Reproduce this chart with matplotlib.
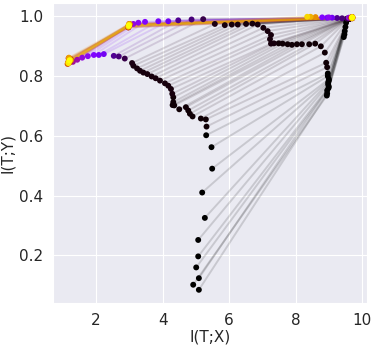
import numpy as np
import matplotlib
matplotlib.use("Agg")
import matplotlib.pyplot as plt
import seaborn as sns

# saved epochs (dense at start, sparse later)
epochs = list(range(1, 37)) + \
         [150, 240, 300, 600, 660, 750, 900, 1000, 1140, 1200] + \
         [1300, 1390, 1480, 1570, 1660, 1750, 1840, 1930, 2020, 2110,
          2200, 2290, 2380, 2470, 2560, 2650, 2740, 2830, 2920, 3000]

# layer 1 (first hidden layer)
l1_x = [9.45, 9.47, 9.48, 9.50, 9.52, 9.52, 9.55, 9.56, 9.57, 9.58, 9.58, 9.59,
        9.60, 9.60, 9.60, 9.61, 9.61, 9.61, 9.62, 9.62, 9.62, 9.62, 9.63, 9.63,
        9.63, 9.63, 9.64, 9.64, 9.64, 9.64, 9.65, 9.65, 9.65, 9.65, 9.65, 9.66,
        9.55, 9.40, 9.25, 9.10, 8.95, 8.80, 9.00, 9.60, 9.65, 9.68,
        9.70, 9.69, 9.71, 9.70, 9.68, 9.70, 9.71, 9.69, 9.70, 9.70,
        9.71, 9.69, 9.70, 8.60, 9.70, 8.45, 9.71, 8.35, 9.70, 9.70]
l1_y = [0.931, 0.940, 0.951, 0.965, 0.979, 0.990, 0.990, 0.991, 0.991, 0.991, 0.992, 0.992,
        0.992, 0.992, 0.993, 0.993, 0.993, 0.993, 0.993, 0.993, 0.994, 0.994, 0.994, 0.994,
        0.994, 0.994, 0.994, 0.994, 0.995, 0.995, 0.995, 0.995, 0.995, 0.995, 0.995, 0.995,
        0.993, 0.994, 0.995, 0.996, 0.996, 0.997, 0.997, 0.996, 0.996, 0.996,
        0.996, 0.994, 0.998, 0.996, 0.995, 0.997, 0.994, 0.996, 0.997, 0.998,
        0.996, 0.994, 0.996, 0.998, 0.995, 0.999, 0.997, 0.999, 0.996, 0.997]

# layer 2
l2_x = [8.94, 8.95, 8.95, 8.99, 9.00, 8.98, 8.98, 9.00, 9.00, 8.97, 8.97, 8.95,
        8.92, 8.88, 8.76, 8.59, 8.41, 8.19, 8.04, 7.89, 7.76, 7.61, 7.49, 7.35,
        7.26, 7.23, 7.26, 7.16, 7.03, 6.86, 6.70, 6.51, 6.26, 6.08, 5.87, 5.57,
        5.22, 4.87, 4.47, 4.17, 3.87, 3.47, 3.27, 3.12, 3.02, 2.98,
        2.97, 2.99, 2.98, 3.00, 2.97, 2.99, 3.00, 2.98, 2.99, 2.98,
        2.96, 3.01, 2.98, 2.99, 3.00, 2.97, 2.98, 2.99, 2.98, 2.99]
l2_y = [0.735, 0.742, 0.752, 0.760, 0.765, 0.772, 0.779, 0.785, 0.790, 0.800, 0.809, 0.830,
        0.845, 0.879, 0.900, 0.909, 0.907, 0.907, 0.907, 0.905, 0.907, 0.909, 0.910, 0.910,
        0.909, 0.924, 0.938, 0.951, 0.962, 0.973, 0.976, 0.975, 0.973, 0.973, 0.971, 0.975,
        0.991, 0.990, 0.987, 0.984, 0.984, 0.982, 0.979, 0.975, 0.972, 0.970,
        0.964, 0.972, 0.967, 0.975, 0.963, 0.970, 0.974, 0.966, 0.970, 0.972,
        0.965, 0.974, 0.968, 0.970, 0.975, 0.966, 0.970, 0.972, 0.968, 0.970]

# layer 3
l3_x = [4.92, 5.09, 5.09, 5.01, 5.07, 5.07, 5.27, 5.19, 5.49, 5.47, 5.31, 5.32,
        5.30, 5.15, 4.90, 4.82, 4.77, 4.70, 4.50, 4.35, 4.30, 4.32, 4.32, 4.29,
        4.25, 4.17, 4.07, 3.92, 3.79, 3.67, 3.54, 3.42, 3.32, 3.23, 3.12, 3.08,
        2.86, 2.68, 2.53, 2.23, 2.08, 1.93, 1.75, 1.58, 1.43, 1.30,
        1.15, 1.18, 1.20, 1.23, 1.17, 1.19, 1.21, 1.16, 1.19, 1.18,
        1.14, 1.20, 1.17, 1.24, 1.18, 1.16, 1.22, 1.19, 1.17, 1.20]
l3_y = [0.101, 0.084, 0.123, 0.159, 0.196, 0.251, 0.325, 0.410, 0.490, 0.562, 0.602, 0.631,
        0.655, 0.658, 0.665, 0.674, 0.685, 0.696, 0.689, 0.702, 0.703, 0.713, 0.729, 0.741,
        0.757, 0.768, 0.776, 0.785, 0.793, 0.799, 0.807, 0.812, 0.818, 0.826, 0.835, 0.844,
        0.859, 0.866, 0.868, 0.874, 0.871, 0.871, 0.867, 0.862, 0.855, 0.848,
        0.842, 0.852, 0.846, 0.858, 0.860, 0.850, 0.855, 0.847, 0.856, 0.851,
        0.841, 0.859, 0.845, 0.853, 0.862, 0.846, 0.855, 0.850, 0.844, 0.853]

sns.set_style("darkgrid")
plt.rcParams['font.family'] = ['DejaVu Sans']

fig = plt.figure(figsize=(3.73, 3.48), dpi=100)
ax = fig.add_axes([0.143, 0.128, 0.840, 0.863])

cmap = plt.get_cmap("gnuplot")
c = np.array(epochs) / max(epochs)

# connecting lines, one per epoch
for i in range(len(epochs)):
    ax.plot([l1_x[i], l2_x[i], l3_x[i]], [l1_y[i], l2_y[i], l3_y[i]],
            color=cmap(c[i]), alpha=0.14, lw=1.4, zorder=1)

xs = np.column_stack([l1_x, l2_x, l3_x])
ys = np.column_stack([l1_y, l2_y, l3_y])
for i in range(len(epochs)):
    ax.scatter(xs[i], ys[i], s=18, color=cmap(c[i]), edgecolors='none', zorder=2)

ax.set_xlabel("I(T;X)", fontsize=11, labelpad=1)
ax.set_ylabel("I(T;Y)", fontsize=11, labelpad=3)
ax.tick_params(labelsize=11)

fig.savefig("out.png", dpi=100)
